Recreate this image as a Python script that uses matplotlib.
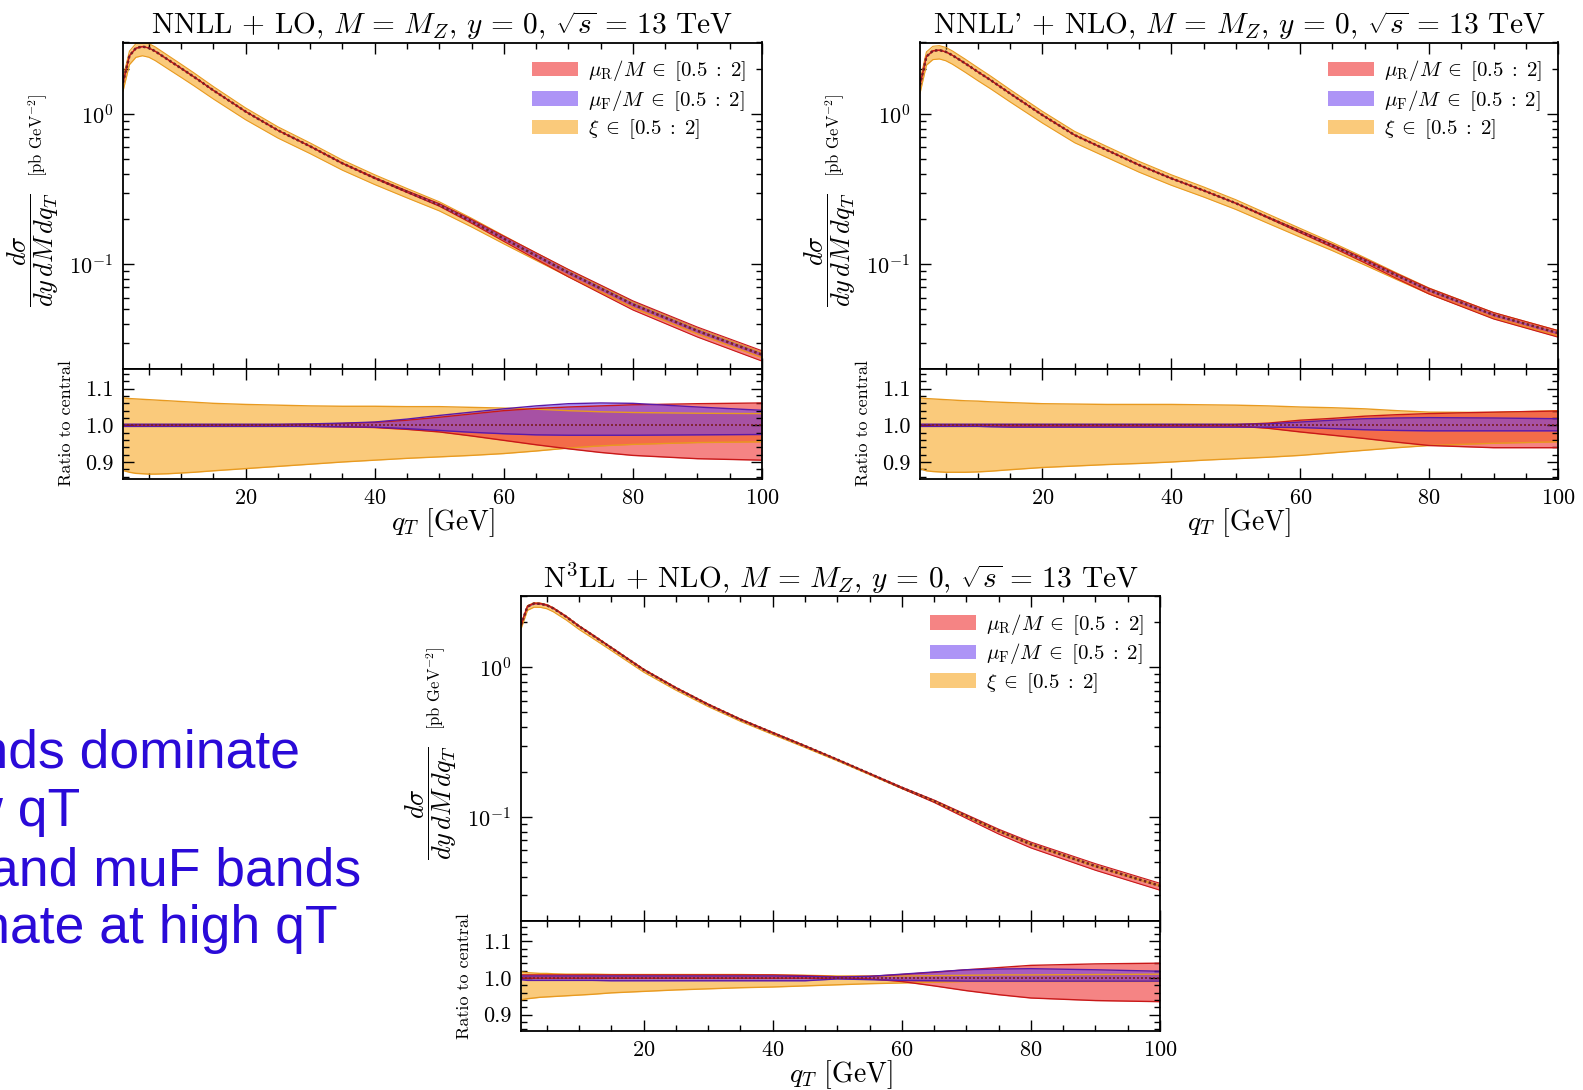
import numpy as np
import matplotlib
matplotlib.use("Agg")
import matplotlib.pyplot as plt
from matplotlib.patches import Patch
from matplotlib.ticker import (MultipleLocator, FixedLocator, LogLocator,
                               NullFormatter, FormatStrFormatter)

plt.rcParams.update({
    "font.family": "cmr10",
    "mathtext.fontset": "cm",
    "axes.formatter.use_mathtext": True,
    "axes.unicode_minus": False,
})

# transverse momentum grid [GeV]
qt = [1, 2, 3, 4, 5, 6, 8, 10, 12, 15, 20, 25, 30, 35, 40, 45, 50, 55, 60,
      65, 70, 75, 80, 90, 100]

titles = [
    r"NNLL + LO, $M\,=\,M_Z$, $y\,=\,0$, $\sqrt{s}\,=\,13$ TeV",
    r"NNLL' + NLO, $M\,=\,M_Z$, $y\,=\,0$, $\sqrt{s}\,=\,13$ TeV",
    r"N$^3$LL + NLO, $M\,=\,M_Z$, $y\,=\,0$, $\sqrt{s}\,=\,13$ TeV",
]
legend_labels = [r"$\mu_{\rm R}/M \;\in\; [0.5\;:\;2]$",
                 r"$\mu_{\rm F}/M \;\in\; [0.5\;:\;2]$",
                 r"$\xi \;\in\; [0.5\;:\;2]$"]

# ---- NNLL + LO ----
central_1 = [1.62, 2.45, 2.75, 2.82, 2.76, 2.62, 2.30, 2.02, 1.77, 1.44, 1.04,
             0.78, 0.61, 0.47, 0.375, 0.304, 0.248, 0.193, 0.148, 0.114, 0.088,
             0.069, 0.054, 0.036, 0.025]
xi_up_1 = [1.075, 1.073, 1.072, 1.071, 1.070, 1.069, 1.067, 1.065, 1.063, 1.060,
           1.057, 1.055, 1.053, 1.052, 1.052, 1.051, 1.051, 1.049, 1.047, 1.044,
           1.040, 1.037, 1.035, 1.033, 1.032]
xi_dn_1 = [0.877, 0.872, 0.869, 0.868, 0.867, 0.867, 0.868, 0.870, 0.872, 0.876,
           0.882, 0.888, 0.894, 0.900, 0.905, 0.910, 0.914, 0.918, 0.923, 0.930,
           0.938, 0.944, 0.948, 0.953, 0.955]
mur_up_1 = [1.002, 1.002, 1.002, 1.002, 1.002, 1.002, 1.002, 1.002, 1.002, 1.002,
            1.002, 1.002, 1.003, 1.005, 1.008, 1.014, 1.022, 1.031, 1.040, 1.046,
            1.050, 1.053, 1.056, 1.059, 1.061]
mur_dn_1 = [0.998, 0.998, 0.998, 0.998, 0.998, 0.998, 0.998, 0.998, 0.998, 0.998,
            0.998, 0.998, 0.997, 0.996, 0.994, 0.989, 0.982, 0.971, 0.959, 0.947,
            0.936, 0.926, 0.918, 0.909, 0.905]
muf_up_1 = [1.003, 1.003, 1.003, 1.003, 1.003, 1.003, 1.003, 1.003, 1.003, 1.003,
            1.003, 1.003, 1.004, 1.006, 1.009, 1.017, 1.027, 1.036, 1.045, 1.053,
            1.059, 1.061, 1.060, 1.050, 1.041]
muf_dn_1 = [0.997, 0.997, 0.997, 0.997, 0.997, 0.997, 0.997, 0.997, 0.997, 0.997,
            0.997, 0.997, 0.997, 0.996, 0.995, 0.991, 0.986, 0.981, 0.977, 0.974,
            0.973, 0.973, 0.973, 0.974, 0.975]

# ---- NNLL' + NLO ----
central_2 = [1.56, 2.42, 2.64, 2.67, 2.60, 2.47, 2.18, 1.91, 1.68, 1.37, 0.985,
             0.725, 0.576, 0.458, 0.373, 0.31, 0.255, 0.205, 0.165, 0.133, 0.106,
             0.084, 0.067, 0.046, 0.0348]
xi_up_2 = [1.075, 1.073, 1.072, 1.071, 1.070, 1.069, 1.067, 1.066, 1.064, 1.062,
           1.059, 1.058, 1.057, 1.057, 1.057, 1.056, 1.055, 1.053, 1.050, 1.048,
           1.045, 1.040, 1.036, 1.035, 1.040]
xi_dn_2 = [0.882, 0.876, 0.874, 0.873, 0.872, 0.872, 0.872, 0.873, 0.875, 0.879,
           0.885, 0.889, 0.893, 0.896, 0.900, 0.905, 0.909, 0.913, 0.918, 0.925,
           0.932, 0.939, 0.945, 0.951, 0.955]
mur_up_2 = [1.002, 1.002, 1.002, 1.002, 1.002, 1.002, 1.002, 1.002, 1.002, 1.002,
            1.002, 1.002, 1.002, 1.002, 1.002, 1.002, 1.002, 1.006, 1.014, 1.019,
            1.025, 1.029, 1.032, 1.036, 1.039]
mur_dn_2 = [0.998, 0.998, 0.998, 0.998, 0.998, 0.998, 0.998, 0.998, 0.998, 0.998,
            0.998, 0.998, 0.998, 0.998, 0.998, 0.998, 0.998, 0.992, 0.982, 0.973,
            0.964, 0.954, 0.945, 0.939, 0.939]
muf_up_2 = [1.003, 1.003, 1.003, 1.003, 1.003, 1.003, 1.003, 1.003, 1.003, 1.003,
            1.003, 1.003, 1.003, 1.003, 1.003, 1.003, 1.003, 1.004, 1.009, 1.014,
            1.018, 1.020, 1.021, 1.020, 1.018]
muf_dn_2 = [0.997, 0.997, 0.997, 0.997, 0.997, 0.997, 0.997, 0.997, 0.996, 0.995,
            0.995, 0.995, 0.995, 0.995, 0.995, 0.995, 0.995, 0.995, 0.994, 0.991,
            0.988, 0.986, 0.985, 0.985, 0.985]

# ---- N3LL + NLO ----
central_3 = [1.92, 2.55, 2.67, 2.66, 2.60, 2.48, 2.18, 1.88, 1.65, 1.35, 0.965,
             0.728, 0.564, 0.448, 0.365, 0.298, 0.242, 0.195, 0.157, 0.128,
             0.1016, 0.0807, 0.0658, 0.047, 0.0347]
xi_up_3 = [1.016, 1.014, 1.013, 1.012, 1.012, 1.011, 1.010, 1.010, 1.010, 1.009,
           1.009, 1.009, 1.009, 1.009, 1.008, 1.007, 1.005, 1.005, 1.005, 1.006,
           1.007, 1.008, 1.008, 1.009, 1.010]
xi_dn_3 = [0.940, 0.943, 0.945, 0.947, 0.948, 0.949, 0.951, 0.953, 0.955, 0.959,
           0.963, 0.967, 0.970, 0.973, 0.975, 0.978, 0.981, 0.984, 0.986, 0.988,
           0.990, 0.990, 0.990, 0.990, 0.990]
mur_up_3 = [1.008, 1.008, 1.008, 1.008, 1.008, 1.008, 1.008, 1.008, 1.008, 1.008,
            1.008, 1.008, 1.008, 1.008, 1.008, 1.006, 1.003, 1.004, 1.009, 1.015,
            1.022, 1.028, 1.034, 1.038, 1.040]
mur_dn_3 = [0.999, 0.999, 0.999, 0.999, 0.999, 0.999, 0.999, 0.999, 0.999, 0.999,
            0.999, 0.999, 0.999, 0.999, 0.999, 0.999, 0.999, 0.997, 0.990, 0.978,
            0.965, 0.954, 0.945, 0.938, 0.935]
muf_up_3 = [1.005, 1.005, 1.005, 1.005, 1.005, 1.005, 1.005, 1.005, 1.005, 1.005,
            1.005, 1.005, 1.005, 1.005, 1.005, 1.004, 1.002, 1.004, 1.010, 1.016,
            1.022, 1.024, 1.025, 1.022, 1.018]
muf_dn_3 = [0.995, 0.993, 0.993, 0.993, 0.993, 0.993, 0.993, 0.993, 0.993, 0.992,
            0.992, 0.992, 0.992, 0.992, 0.992, 0.992, 0.997, 0.995, 0.993, 0.992,
            0.991, 0.991, 0.991, 0.991, 0.991]

notes = ["\u03be bands dominate", "at low qT", "muR and muF bands",
         "dominate at high qT"]

# band styles: (fill colour, alpha, edge colour) for muR, muF, xi
STY_R = ("#ee2020", 0.55, "#c81818")
STY_F = ("#6a3cf0", 0.55, "#5a1aa8")
STY_X = ("#f7a823", 0.60, "#e89a20")
CENTRAL_COL = "#7a1f24"

W, H = 1583, 1090
fig = plt.figure(figsize=(W / 100, H / 100), dpi=100)


def rect(x0, y0, x1, y1):
    return [x0 / W, 1 - y1 / H, (x1 - x0) / W, (y1 - y0) / H]


def style_axis(ax):
    for s in ax.spines.values():
        s.set_linewidth(1.3)
    ax.tick_params(which="both", direction="in", top=True, right=True,
                   labelsize=16, width=1.0)
    ax.tick_params(which="major", length=8)
    ax.tick_params(which="minor", length=4)
    ax.tick_params(axis="y", which="major", pad=7)
    ax.tick_params(axis="x", which="major", pad=7)


def panel(xl, xr, ytop, ymid, ybot, title, central, bands):
    axm = fig.add_axes(rect(xl, ytop, xr, ymid))
    axr = fig.add_axes(rect(xl, ymid, xr, ybot))
    c = np.asarray(central)
    q = np.asarray(qt, float)
    order = [(bands[2], STY_X, True), (bands[0], STY_R, True),
             (bands[1], STY_F, False)]
    for (up, dn), (fc, al, ec), main_edges in order:
        up = np.asarray(up)
        dn = np.asarray(dn)
        axm.fill_between(q, c * dn, c * up, color=fc, alpha=al, lw=0)
        if main_edges:
            axm.plot(q, c * up, color=ec, lw=0.8)
            axm.plot(q, c * dn, color=ec, lw=0.8)
        axr.fill_between(q, dn, up, color=fc, alpha=al, lw=0)
        axr.plot(q, up, color=ec, lw=1.0)
        axr.plot(q, dn, color=ec, lw=1.0)
    axm.plot(q, c, color=CENTRAL_COL, lw=1.8, ls=(0, (1.0, 1.0)))
    axr.plot(q, c / c, color=CENTRAL_COL, lw=1.2, ls=(0, (1.2, 1.2)))

    axm.set_yscale("log")
    axm.set_ylim(0.0202, 3.0)
    axm.yaxis.set_major_locator(LogLocator(base=10, numticks=10))
    axm.yaxis.set_minor_locator(LogLocator(base=10, subs=np.arange(2, 10), numticks=10))
    axm.yaxis.set_minor_formatter(NullFormatter())
    for ax in (axm, axr):
        ax.set_xlim(1, 100)
        ax.xaxis.set_major_locator(MultipleLocator(20))
        ax.xaxis.set_minor_locator(MultipleLocator(5))
        style_axis(ax)
    axm.tick_params(labelbottom=False)
    axr.set_ylim(0.855, 1.155)
    axr.yaxis.set_major_locator(FixedLocator([0.9, 1.0, 1.1]))
    axr.yaxis.set_major_formatter(FormatStrFormatter("%.1f"))
    axr.yaxis.set_minor_locator(MultipleLocator(0.02))

    axm.set_title(title, fontsize=21.2, pad=5)
    axm.text(-0.141, 0.363, r"$\dfrac{d\sigma}{dy\,dM\,dq_T}$",
             transform=axm.transAxes, rotation=90, ha="center", va="center",
             fontsize=19)
    axm.text(-0.133, 0.716, r"[pb GeV$^{-2}$]",
             transform=axm.transAxes, rotation=90, ha="center", va="center",
             fontsize=12)
    axr.text(-0.089, 0.5, "Ratio to central", transform=axr.transAxes,
             rotation=90, ha="center", va="center", fontsize=13)
    # x-axis title placed 44 px below the ratio panel
    h_px = ybot - ymid
    axr.text(0.5, -44.0 / h_px, r"$q_T$ [GeV]", transform=axr.transAxes,
             ha="center", va="center", fontsize=20)

    handles = [Patch(facecolor=STY_R[0], alpha=STY_R[1], lw=0),
               Patch(facecolor=STY_F[0], alpha=STY_F[1], lw=0),
               Patch(facecolor=STY_X[0], alpha=STY_X[1], lw=0)]
    axm.legend(handles, legend_labels, loc="upper right", frameon=False,
               fontsize=15, handlelength=2.2, handleheight=0.7,
               labelspacing=0.22, handletextpad=0.5, borderaxespad=0.35)


panel(123, 762, 42.5, 368.5, 478.5, titles[0], central_1,
      [(mur_up_1, mur_dn_1), (muf_up_1, muf_dn_1), (xi_up_1, xi_dn_1)])
panel(920, 1558, 42.5, 368.5, 478.5, titles[1], central_2,
      [(mur_up_2, mur_dn_2), (muf_up_2, muf_dn_2), (xi_up_2, xi_dn_2)])
panel(521, 1160, 596, 921, 1031, titles[2], central_3,
      [(mur_up_3, mur_dn_3), (muf_up_3, muf_dn_3), (xi_up_3, xi_dn_3)])

# slide notes, running in from the left edge
note_right = [300, 80, 361, 338]
note_base = [767, 826, 885, 943]
for txt, xr, yb in zip(notes, note_right, note_base):
    fig.text(xr / W, 1 - yb / H, txt, ha="right", va="baseline",
             fontsize=38.5, color="#2a0ad8",
             family=["Liberation Sans", "DejaVu Sans"])

fig.savefig("out.png", dpi=100)
